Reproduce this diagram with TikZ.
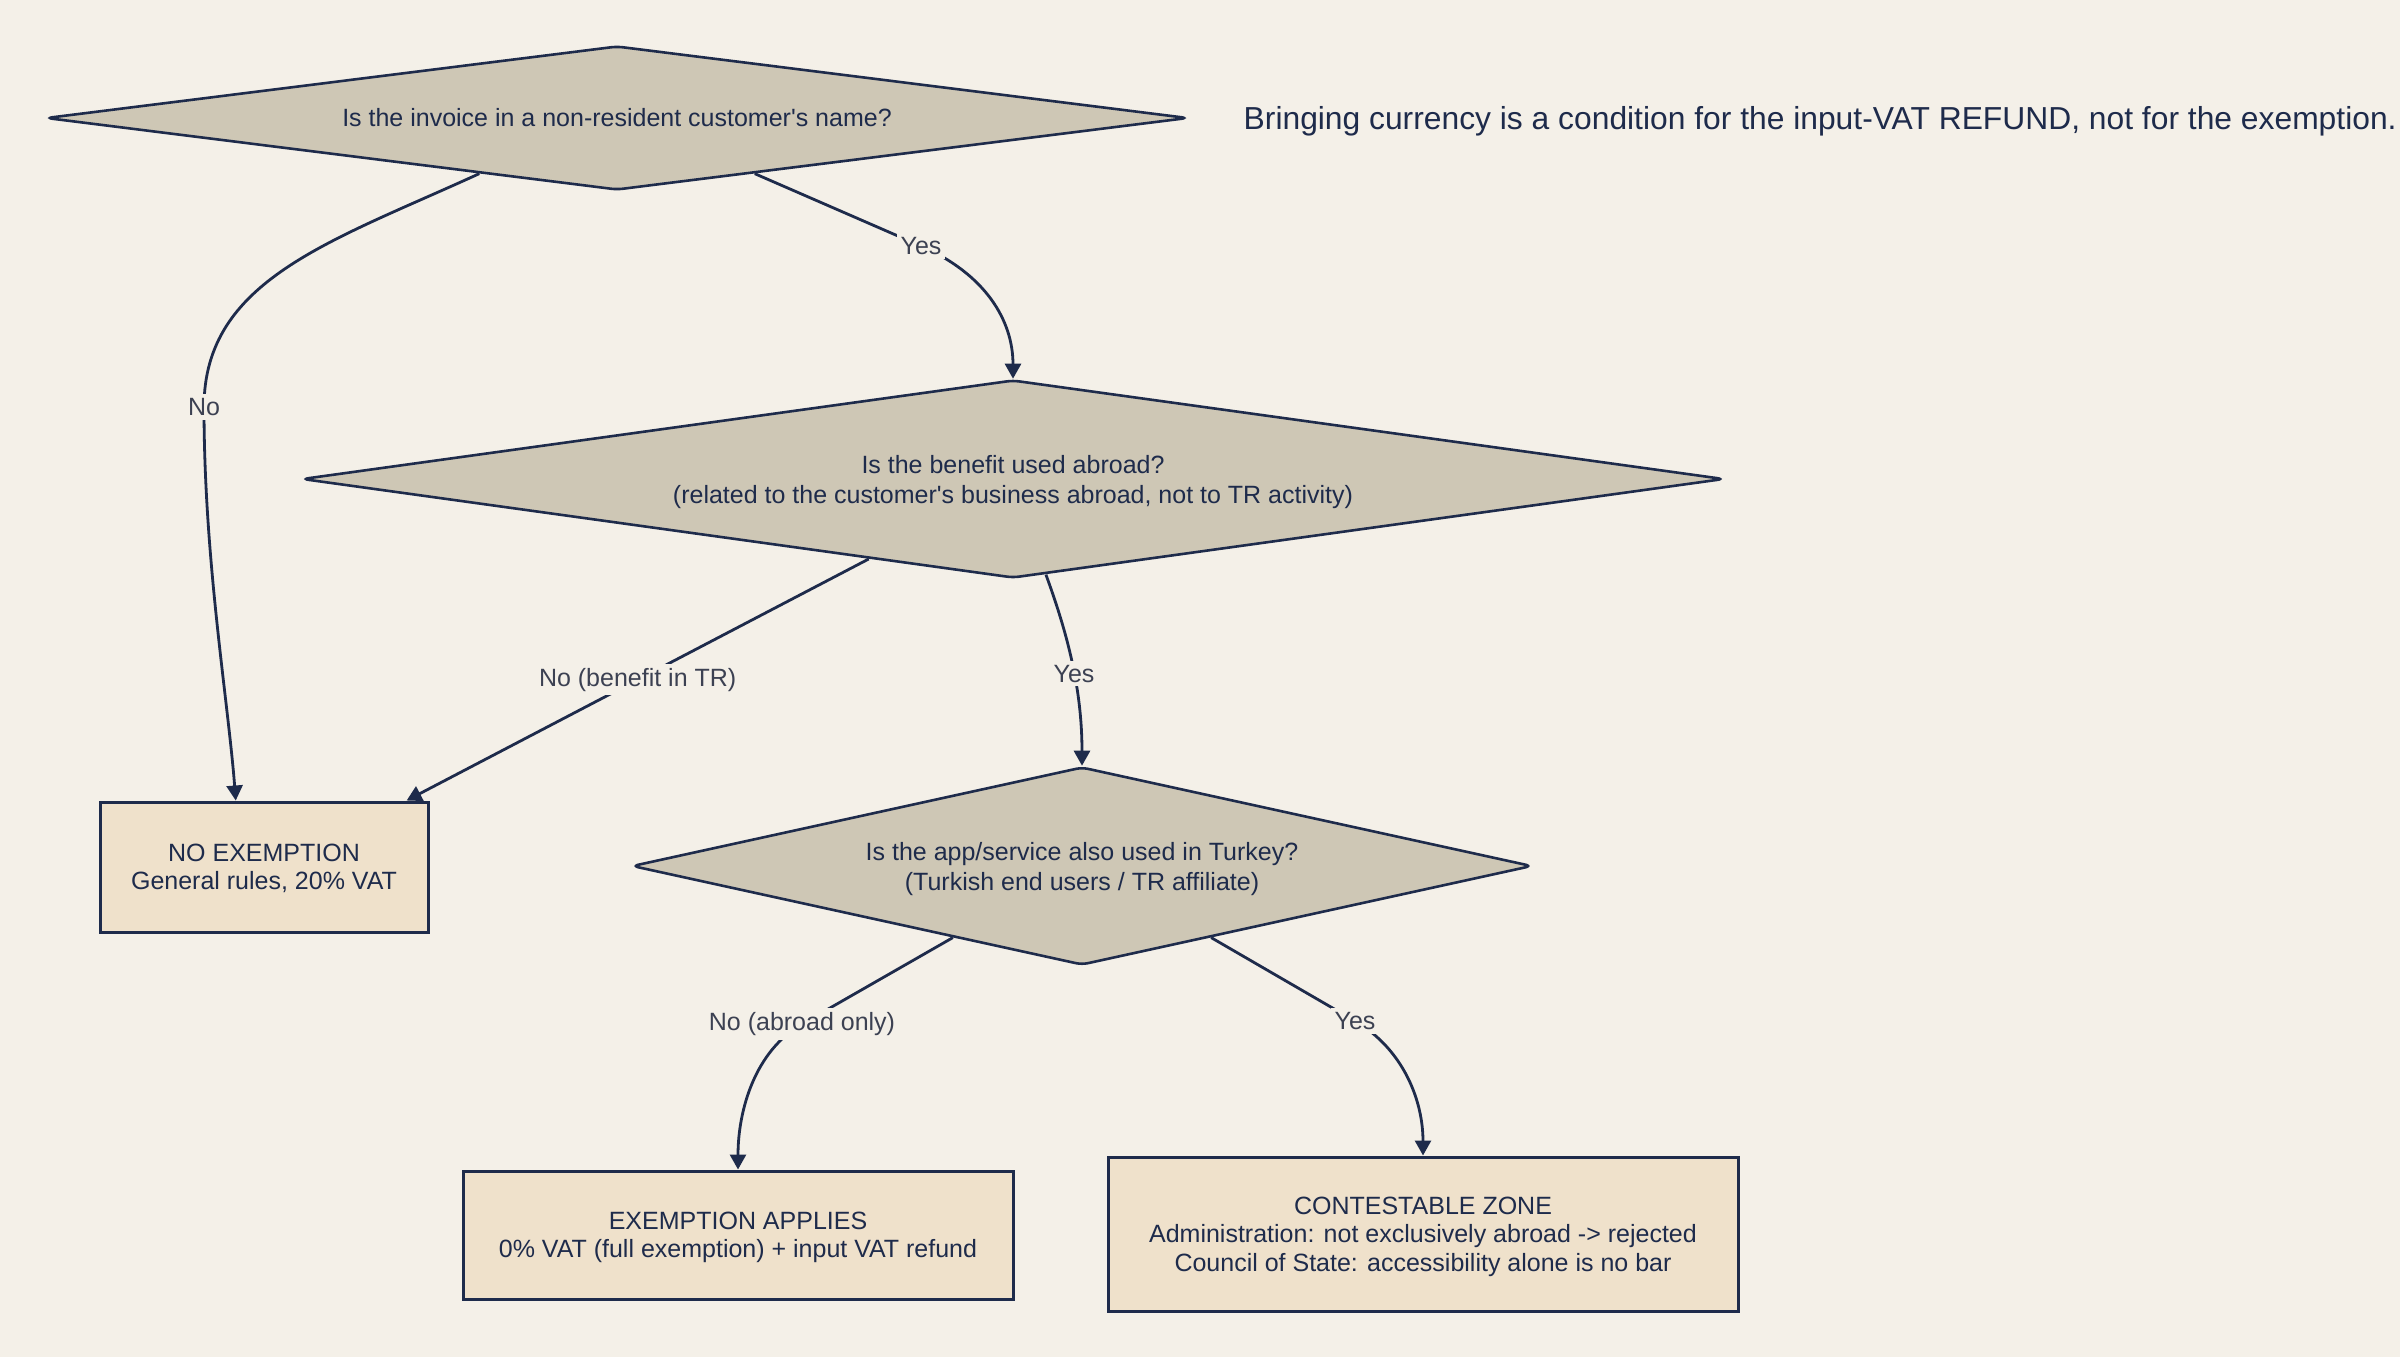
\documentclass[tikz,border=0pt]{standalone}
\usepackage{fontspec}
\setmainfont{Liberation Sans}
\usepackage{tikz}
\usetikzlibrary{arrows.meta,positioning,shapes.geometric}
\definecolor{vtpaper}{HTML}{F4F0E8}
\definecolor{vtstone}{HTML}{CEC7B5}
\definecolor{vtsand}{HTML}{EFE1CB}
\definecolor{vtnavy}{HTML}{1E2B4B}
\definecolor{vtslate}{HTML}{3C4152}

\begin{document}
\begin{tikzpicture}[x=0.5pt,y=-0.5pt,
  dec/.style={diamond,aspect=7,draw=vtnavy,line width=1.3pt,fill=vtstone,rounded corners=3pt,
    align=center,text=vtnavy,font=\fontsize{12.5}{15}\selectfont,inner sep=2pt,text depth=-6.5pt},
  res/.style={draw=vtnavy,line width=1.5pt,fill=vtsand,align=center,text=vtnavy,
    font=\fontsize{12.5}{14.2}\selectfont,text depth=-5.5pt},
  lbl/.style={fill=vtpaper,text=vtslate,font=\fontsize{12.5}{15}\selectfont,inner sep=2pt},
  arr/.style={-{Triangle[length=7.5pt,width=8pt]},line width=1.4pt,vtnavy}]
  \fill[vtpaper] (0,0) rectangle (2400,1357);
  \useasboundingbox (0,0) rectangle (2400,1357);
  \node[dec,minimum width=571pt,minimum height=72pt,text depth={}] (q1) at (617,118)
    {Is the invoice in a non-resident customer\textquotesingle s name?};
  \node[right=24pt of q1,yshift=-1.5pt,text=vtnavy,font=\fontsize{15.9}{19}\selectfont,inner sep=3pt] (note)
    {Bringing currency is a condition for the input-VAT REFUND, not for the exemption.};
  \node[dec,minimum width=711pt,minimum height=99pt] (q2) at (1013,479)
    {Is the benefit used abroad?\\(related to the customer\textquotesingle s business abroad, not to TR activity)};
  \node[dec,minimum width=450pt,minimum height=99pt] (q3) at (1082,866)
    {Is the app/service also used in Turkey?\\(Turkish end users / TR affiliate)};
  \node[res,minimum width=164pt,minimum height=65pt] (noex) at (264,867)
    {NO EXEMPTION\\General rules, 20\% VAT};
  \node[res,minimum width=275pt,minimum height=64pt] (yesex) at (738,1235)
    {EXEMPTION APPLIES\\0\% VAT (full exemption) + input VAT refund};
  \node[res,minimum width=315pt,minimum height=77pt] (zone) at (1423,1234)
    {CONTESTABLE ZONE\\Administration: not exclusively abroad -> rejected\\Council of State: accessibility alone is no bar};
  % edges
  \draw[arr] (q1.202) .. controls (330,242) and (204,280) .. (204,407) node[lbl]{No}
    .. controls (204,560) and (228,700) .. (noex.113);
  \draw[arr] (q1.-22) -- (921,246) node[lbl]{Yes}
    .. controls (985,274) and (1013,320) .. (q2.north);
  \draw[arr] (q2.209) -- node[lbl]{No (benefit in TR)} (noex.25);
  \draw[arr] (q2.-71) .. controls (1068,635) and (1082,690) .. node[lbl,pos=0.55]{Yes} (q3.north);
  \draw[arr] (q3.209) -- (802,1024) node[lbl]{No (abroad only)}
    .. controls (755,1051) and (738,1110) .. (yesex.north);
  \draw[arr] (q3.-29) -- (1355,1021) node[lbl]{Yes}
    .. controls (1403,1049) and (1423,1100) .. (zone.north);
\end{tikzpicture}
\end{document}
